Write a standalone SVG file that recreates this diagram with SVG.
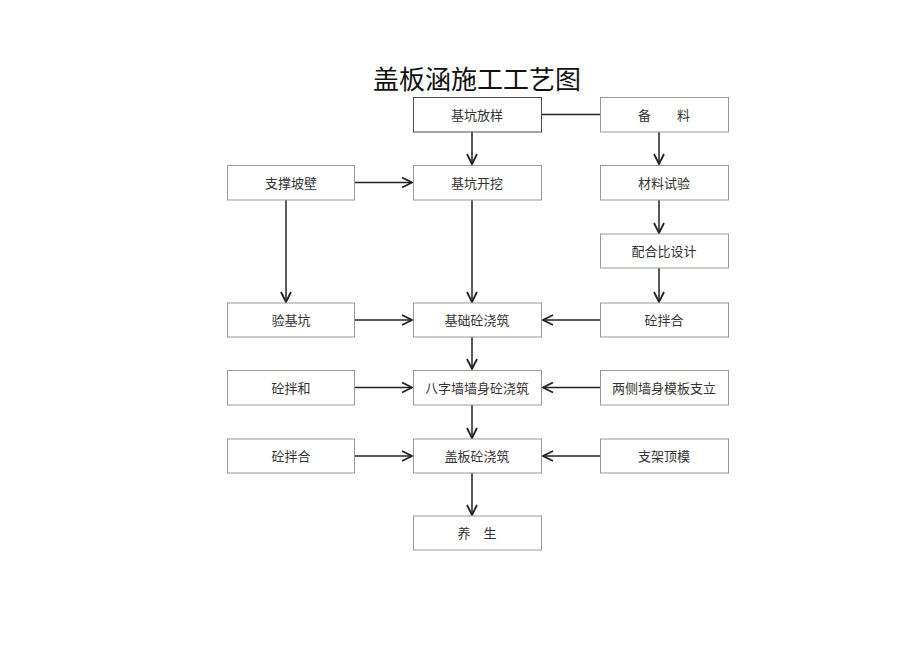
<svg xmlns="http://www.w3.org/2000/svg" width="920" height="651" viewBox="0 0 920 651">
<defs>
<style>
.box{fill:#ffffff;stroke:#8f9f8f;stroke-width:1}
.dark{stroke:#4a4a4a}
.lbl{font-family:"Liberation Serif","Noto Sans CJK SC",serif;font-size:13px;fill:#333333;text-anchor:middle;dominant-baseline:central}
.title{font-family:"Liberation Serif","Noto Sans CJK SC",serif;font-size:26px;fill:#111111;text-anchor:middle}
.conn{stroke:#222222;stroke-width:1.5;fill:none}
</style>
<marker id="arr" viewBox="0 0 12 12" refX="11" refY="6" markerWidth="12" markerHeight="12" markerUnits="userSpaceOnUse" orient="auto">
<path d="M1,1 L11,6 L1,11" fill="none" stroke="#222222" stroke-width="1.8"/>
</marker>
</defs>
<rect width="920" height="651" fill="#ffffff"/>
<text class="title" x="477" y="89">盖板涵施工工艺图</text>
<g id="connectors">
<line class="conn" x1="542" y1="114.5" x2="600" y2="114.5"/>
<line class="conn" x1="472" y1="132" x2="472" y2="164" marker-end="url(#arr)"/>
<line class="conn" x1="659" y1="132" x2="659" y2="164" marker-end="url(#arr)"/>
<line class="conn" x1="355" y1="182.5" x2="412" y2="182.5" marker-end="url(#arr)"/>
<line class="conn" x1="286" y1="200" x2="286" y2="302" marker-end="url(#arr)"/>
<line class="conn" x1="472" y1="200" x2="472" y2="302" marker-end="url(#arr)"/>
<line class="conn" x1="659" y1="200" x2="659" y2="233" marker-end="url(#arr)"/>
<line class="conn" x1="659" y1="268" x2="659" y2="302" marker-end="url(#arr)"/>
<line class="conn" x1="355" y1="320" x2="412" y2="320" marker-end="url(#arr)"/>
<line class="conn" x1="600" y1="320" x2="543" y2="320" marker-end="url(#arr)"/>
<line class="conn" x1="472" y1="337" x2="472" y2="369" marker-end="url(#arr)"/>
<line class="conn" x1="355" y1="387.5" x2="412" y2="387.5" marker-end="url(#arr)"/>
<line class="conn" x1="600" y1="387.5" x2="543" y2="387.5" marker-end="url(#arr)"/>
<line class="conn" x1="472" y1="405" x2="472" y2="438" marker-end="url(#arr)"/>
<line class="conn" x1="355" y1="456" x2="412" y2="456" marker-end="url(#arr)"/>
<line class="conn" x1="600" y1="456" x2="543" y2="456" marker-end="url(#arr)"/>
<line class="conn" x1="472" y1="473" x2="472" y2="515" marker-end="url(#arr)"/>
</g>
<g id="n_jikengfangyang"><rect class="box dark" x="413.5" y="97.5" width="128" height="34.5"/><text class="lbl" x="477" y="115">基坑放样</text></g>
<g id="n_beiliao"><rect class="box" x="600.5" y="97.5" width="128" height="34.5"/><text class="lbl" x="664" y="115" xml:space="preserve">备　　料</text></g>
<g id="n_zhicheng"><rect class="box" x="227.5" y="165.5" width="127" height="34.5"/><text class="lbl" x="291" y="183">支撑坡壁</text></g>
<g id="n_kaiwa"><rect class="box" x="413.5" y="165.5" width="128" height="34.5"/><text class="lbl" x="477" y="183">基坑开挖</text></g>
<g id="n_shiyan"><rect class="box" x="600.5" y="165.5" width="128" height="34.5"/><text class="lbl" x="664" y="183">材料试验</text></g>
<g id="n_peihebi"><rect class="box" x="600.5" y="234" width="128" height="34"/><text class="lbl" x="664" y="251">配合比设计</text></g>
<g id="n_yanjikeng"><rect class="box" x="227.5" y="303" width="127" height="34"/><text class="lbl" x="291" y="320">验基坑</text></g>
<g id="n_jichu"><rect class="box" x="413.5" y="303" width="128" height="34"/><text class="lbl" x="477" y="320">基础砼浇筑</text></g>
<g id="n_banhe1"><rect class="box" x="600.5" y="303" width="128" height="34"/><text class="lbl" x="664" y="320">砼拌合</text></g>
<g id="n_banhe2"><rect class="box" x="227.5" y="370.5" width="127" height="34.5"/><text class="lbl" x="291" y="388">砼拌和</text></g>
<g id="n_bazi"><rect class="box" x="413.5" y="370.5" width="128" height="34.5"/><text class="lbl" x="477" y="388">八字墙墙身砼浇筑</text></g>
<g id="n_moban"><rect class="box" x="600.5" y="370.5" width="128" height="34.5"/><text class="lbl" x="664" y="388">两侧墙身模板支立</text></g>
<g id="n_banhe3"><rect class="box" x="227.5" y="439" width="127" height="34"/><text class="lbl" x="291" y="456">砼拌合</text></g>
<g id="n_gaiban"><rect class="box" x="413.5" y="439" width="128" height="34"/><text class="lbl" x="477" y="456">盖板砼浇筑</text></g>
<g id="n_zhijia"><rect class="box" x="600.5" y="439" width="128" height="34"/><text class="lbl" x="664" y="456">支架顶模</text></g>
<g id="n_yangsheng"><rect class="box" x="413.5" y="516" width="128" height="34"/><text class="lbl" x="477" y="533" xml:space="preserve">养　生</text></g>
</svg>
